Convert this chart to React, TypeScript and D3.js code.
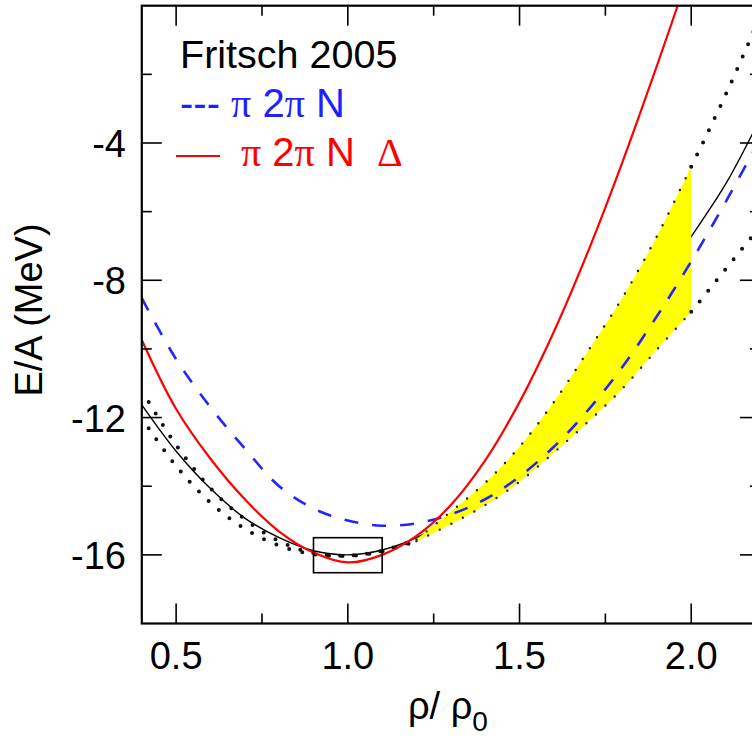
import React from "react";
import * as d3 from "d3";

// Binding energy per nucleon vs density (Fritsch 2005 chiral EOS comparison)
const W = 752;
const H = 740;

// red: pi 2pi N Delta
const redX = [0.4, 0.5, 0.6, 0.7, 0.8, 0.9, 1.0, 1.1, 1.2, 1.3, 1.4, 1.5, 1.6, 1.7, 1.8, 1.9, 2.0];
const redE = [-9.74, -11.75, -13.2, -14.38, -15.32, -15.93, -16.22, -16.0, -15.45, -14.55, -13.25, -11.55, -9.5, -7.15, -4.55, -1.75, 1.15];

// blue dashed: pi 2pi N
const blueX = [0.4, 0.5, 0.6, 0.7, 0.8, 0.9, 1.0, 1.1, 1.2, 1.3, 1.4, 1.5, 1.6, 1.7, 1.8, 1.9, 2.0, 2.1, 2.2];
const blueE = [-8.52, -10.3, -11.7, -12.9, -14.0, -14.65, -15.0, -15.15, -15.08, -14.82, -14.38, -13.72, -12.85, -11.78, -10.52, -9.05, -7.45, -5.72, -3.9];

// black solid: central EOS
const solidX = [0.4, 0.5, 0.6, 0.7, 0.8, 0.9, 1.0, 1.1, 1.2, 1.3, 1.4, 1.5, 1.6, 1.7, 1.8, 1.9, 2.0, 2.1, 2.2];
const solidE = [-11.63, -12.98, -14.07, -14.93, -15.5, -15.88, -16.0, -15.86, -15.5, -14.95, -14.22, -13.35, -12.3, -11.05, -9.7, -8.25, -6.73, -5.2, -3.3];

// dotted bounds at low density
const lowX = [0.42, 0.5, 0.6, 0.7, 0.8, 0.9, 1.0, 1.1, 1.2];
const lowUpperE = [-11.55, -12.8, -14.06, -14.96, -15.6, -15.95, -16.02, -15.88, -15.55];
const lowLowerE = [-12.31, -13.41, -14.48, -15.24, -15.73, -15.98, -16.03, -15.9, -15.6];

// shaded band
const bandX = [1.2, 1.3, 1.4, 1.5, 1.6, 1.7, 1.8, 1.9, 2.0];
const bandUpperE = [-15.55, -14.74, -13.9, -12.85, -11.55, -10.05, -8.5, -6.72, -4.69];
const bandLowerE = [-15.6, -15.1, -14.55, -13.87, -13.02, -12.12, -11.15, -10.02, -8.92];

// dotted bounds beyond the band
const highX = [2.0, 2.05, 2.1, 2.15, 2.2];
const highUpperE = [-4.69, -3.66, -2.6, -1.48, -0.33];
const highLowerE = [-8.92, -8.3, -7.68, -7.06, -6.45];

// axes
const xMajor = [0.5, 1.0, 1.5, 2.0];
const xMinor = [0.75, 1.25, 1.75];
const yMajor = [-4, -8, -12, -16];
const yMinor = [-2, -6, -10, -14];

// saturation box
const boxX = [0.9, 1.1];
const boxE = [-16.52, -15.5];

const FONT = "'Liberation Sans', Arial, Helvetica, sans-serif";
const SERIF = "'Liberation Serif', 'Times New Roman', serif";

export default function App() {
  const x = d3.scaleLinear().domain([0.4, 2.2]).range([141.8, 759.9]);
  const y = d3.scaleLinear().domain([-18, 0]).range([623.5, 5.7]);

  const line = (xs: number[], es: number[]) =>
    d3
      .line<number>()
      .x((_, i) => x(xs[i]))
      .y((d) => y(d))
      .curve(d3.curveCatmullRom.alpha(0.5))(es) || "";

  const band =
    d3
      .area<number>()
      .x((_, i) => x(bandX[i]))
      .y0((_, i) => y(bandLowerE[i]))
      .y1((d) => y(d))
      .curve(d3.curveCatmullRom.alpha(0.5))(bandUpperE) || "";

  const x0 = x(0.4);
  const x1 = x(2.2);
  const yTop = y(0);
  const yBot = y(-18);

  const bigDot = { fill: "none", stroke: "#111", strokeWidth: 4, strokeLinecap: "round" as const, strokeDasharray: "0 13.5" };
  const smallDot = { fill: "none", stroke: "#222", strokeWidth: 2.4, strokeLinecap: "round" as const, strokeDasharray: "0 13" };

  return (
    <svg width={W} height={H} style={{ position: "absolute", left: 0, top: 0, background: "#fff" }}>
      <defs>
        <clipPath id="plot">
          <rect x={x0} y={yTop} width={x1 - x0} height={yBot - yTop} />
        </clipPath>
      </defs>

      <g clipPath="url(#plot)">
        <path d={line(solidX, solidE)} fill="none" stroke="#000" strokeWidth={1.4} />
        <path d={band} fill="#ffff00" stroke="none" />
        <path d={line(bandX, bandUpperE)} {...smallDot} />
        <path d={line(bandX, bandLowerE)} {...smallDot} />
        <path d={line(lowX, lowUpperE)} {...bigDot} />
        <path d={line(lowX, lowLowerE)} {...bigDot} />
        <path d={line(highX, highUpperE)} {...bigDot} />
        <path d={line(highX, highLowerE)} {...bigDot} />
        <path d={line(blueX, blueE)} fill="none" stroke="#2424ff" strokeWidth={2.6} strokeDasharray="14 14" />
        <path d={line(redX, redE)} fill="none" stroke="#ff0000" strokeWidth={2.2} />
        <rect
          x={x(boxX[0])}
          y={y(boxE[1])}
          width={x(boxX[1]) - x(boxX[0])}
          height={y(boxE[0]) - y(boxE[1])}
          fill="none"
          stroke="#000"
          strokeWidth={1.6}
        />
      </g>

      {/* ticks on all four sides */}
      <g stroke="#000" strokeWidth={1.6}>
        {xMajor.map((v) => (
          <g key={"xM" + v}>
            <line x1={x(v)} x2={x(v)} y1={yBot} y2={yBot - 20} />
            <line x1={x(v)} x2={x(v)} y1={yTop} y2={yTop + 20} />
          </g>
        ))}
        {xMinor.map((v) => (
          <g key={"xm" + v}>
            <line x1={x(v)} x2={x(v)} y1={yBot} y2={yBot - 10} />
            <line x1={x(v)} x2={x(v)} y1={yTop} y2={yTop + 10} />
          </g>
        ))}
        {yMajor.map((v) => (
          <g key={"yM" + v}>
            <line x1={x0} x2={x0 + 20} y1={y(v)} y2={y(v)} />
            <line x1={x1} x2={x1 - 20} y1={y(v)} y2={y(v)} />
          </g>
        ))}
        {yMinor.map((v) => (
          <g key={"ym" + v}>
            <line x1={x0} x2={x0 + 10} y1={y(v)} y2={y(v)} />
            <line x1={x1} x2={x1 - 10} y1={y(v)} y2={y(v)} />
          </g>
        ))}
      </g>

      <rect x={x0} y={yTop} width={x1 - x0} height={yBot - yTop} fill="none" stroke="#000" strokeWidth={2.2} />

      {/* tick labels */}
      <g fontFamily={FONT} fontSize={38} fill="#000">
        {xMajor.map((v) => (
          <text key={"xl" + v} x={x(v)} y={669} textAnchor="middle">
            {v.toFixed(1)}
          </text>
        ))}
        {yMajor.map((v) => (
          <text key={"yl" + v} x={126} y={y(v) + 14} textAnchor="end">
            {String(v)}
          </text>
        ))}
      </g>

      {/* axis titles */}
      <text x={408} y={719} fontFamily={FONT} fontSize={38} fill="#000">
        ρ/ ρ
        <tspan fontSize={28} dy={12}>0</tspan>
      </text>
      <text
        transform="translate(42,310) rotate(-90)"
        textAnchor="middle"
        fontFamily={FONT}
        fontSize={38}
        fill="#000"
      >
        E/A (MeV)
      </text>

      {/* legend */}
      <text x={180} y={68} fontFamily={FONT} fontSize={39.5} fill="#000">
        Fritsch 2005
      </text>
      <text x={180} y={117} fontFamily={FONT} fontSize={40} fill="#1f1fff" xmlSpace="preserve">
        {"--- "}
        <tspan fontFamily={SERIF}>π</tspan>
        {" 2"}
        <tspan fontFamily={SERIF}>π</tspan>
        {" N"}
      </text>
      <line x1={176} x2={220} y1={156} y2={156} stroke="#ff0000" strokeWidth={2.2} />
      <text x={241} y={166} fontFamily={FONT} fontSize={40} fill="#ff0000" xmlSpace="preserve">
        <tspan fontFamily={SERIF}>π</tspan>
        {" 2"}
        <tspan fontFamily={SERIF}>π</tspan>
        {" N  "}
        <tspan fontFamily={SERIF}>Δ</tspan>
      </text>
    </svg>
  );
}
